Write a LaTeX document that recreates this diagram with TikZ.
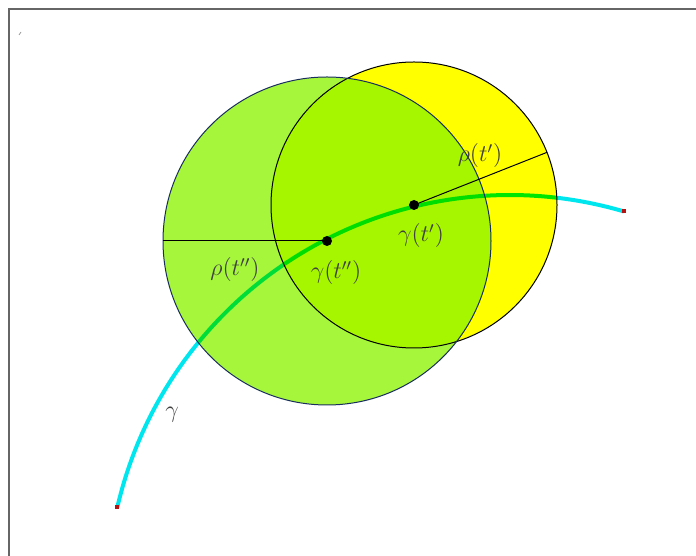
\documentclass[tikz,border=0pt]{standalone}
\usepackage{amsmath,amssymb}
\usepackage{tikz}
\usetikzlibrary{calc}
\definecolor{diskA}{RGB}{166,246,60}
\definecolor{diskB}{RGB}{255,255,0}
\definecolor{curv}{RGB}{0,230,238}
\definecolor{rimA}{RGB}{25,45,95}
\definecolor{endp}{RGB}{180,20,20}
\tikzstyle{disk} = [blend mode=multiply]
\tikzstyle{rad} = [draw=black, line width=0.5pt]
\tikzstyle{lab} = [inner sep=0pt, text=black!75, font=\fontsize{11.5}{14}\selectfont]
\begin{document}
\begin{tikzpicture}[x=0.5pt,y=0.5pt]
		\useasboundingbox (0,0) rectangle (696,556);
		% frame
		\draw[black!60, line width=1pt] (9,0) -- (9,547) -- (696,547);
		\draw[black!40, line width=0.4pt] (19,521) -- (21,524);
		% the two centres and the radius ends
		\node (c1) at (327,315) {};
		\node (c2) at (414,351) {};
		\coordinate (r1) at ($(327,315)+(180:164)$);
		\coordinate (r2) at ($(414,351)+(21.6:143)$);
		\coordinate (s) at ($(510,-42)+(167:403)$);
		\coordinate (e) at ($(510,-42)+(73.6:403)$);
		% the curve gamma
		\draw[curv, line width=2pt] (s) arc[start angle=167, end angle=73.6, radius=403];
		% the disks
		\fill[disk, diskB] (c2.center) circle[radius=143];
		\fill[disk, diskA] (c1.center) circle[radius=164];
		\draw[black, line width=0.5pt] (c2.center) circle[radius=143];
		\draw[rimA, line width=0.5pt] (c1.center) circle[radius=164];
		\foreach \from/\to in {c1/r1,c2/r2}
		\draw[rad] (\from.center) -- (\to);
		\fill ($(c1)$) circle[radius=5];
		\fill ($(c2)$) circle[radius=5];
		\fill[endp] ($(s)+(-2,-2)$) rectangle ($(s)+(2,2)$);
		\fill[endp] ($(e)+(-2,-2)$) rectangle ($(e)+(2,2)$);
		% labels
		\node[lab] (l1) at (235,286) {$\rho(t'')$};
		\node[lab] (l2) at (336,283) {$\gamma(t'')$};
		\node[lab] (l3) at (480,400) {$\rho(t')$};
		\node[lab] (l4) at (421,320) {$\gamma(t')$};
		\node[lab] (l5) at (172,141) {$\gamma$};
	\end{tikzpicture}
\end{document}
